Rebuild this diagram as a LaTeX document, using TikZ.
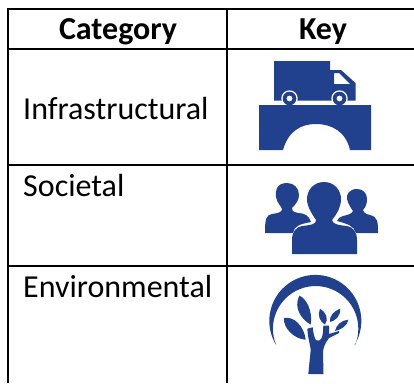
\documentclass[tikz,border=0pt]{standalone}
\usepackage{fontspec}
\setmainfont{Carlito}
\definecolor{iconblue}{RGB}{33,64,141}
\tikzset{
  px/.style={x=1pt,y=-1pt},
  gridline/.style={line width=2.3pt,black},
  icon/.style={fill=iconblue,draw=none},
  headtxt/.style={font=\fontsize{32}{36}\selectfont\bfseries,text=black,inner sep=0pt,anchor=base},
  celltxt/.style={font=\fontsize{32}{36}\selectfont,text=black,inner sep=0pt,anchor=base west},
}
\begin{document}
\begin{tikzpicture}[px]
\useasboundingbox (0,0) rectangle (414,383);
\fill[white] (0,0) rectangle (414,383);
% grid
\coordinate (tl) at (8,9);
\coordinate (tr) at (414,9);
\draw[gridline] (8,383) -- (tl) -- (tr);
\draw[gridline] (226.7,9) -- (226.7,383);
\draw[gridline] (8,49) -- (414,49);
\draw[gridline] (8,164.7) -- (414,164.7);
\draw[gridline] (8,265.7) -- (414,265.7);
% text
\node[headtxt] (hcat) at (118,39) {Category};
\node[headtxt] (hkey) at (323,39) {Key};
\node[celltxt] (c1) at (23,119) {Infrastructural};
\node[celltxt] (c2) at (23,196) {Societal};
\node[celltxt] (c3) at (23,297) {Environmental};
% truck
\fill[icon,even odd rule] (274,61) -- (330,61) -- (330,70) -- (341,70) -- (355.5,83) -- (355.5,100.5) -- (274,100.5) -- cycle
  (334,73) -- (334,84) -- (350,84) -- (339,73) -- cycle;
\foreach \cx in {289.5,339.5}{
  \fill[white] (\cx,98.5) circle (8.2);
  \fill[icon,even odd rule] (\cx,98.5) circle (6.8) (\cx,98.5) circle (3);
  \fill[icon] (\cx-1,103) rectangle (\cx+1,106);
}
% bridge
\fill[icon] (259,105) -- (371,105) -- (371,150) -- (350,150)
  .. controls (346,132) and (332,124) .. (316,124) .. controls (300,124) and (288,132) .. (283,150) -- (259,150) -- cycle;
% people
\fill[icon] (287,183) .. controls (276,183) and (275,192) .. (276,197) .. controls (277,203) and (281,206) .. (282,209)
  .. controls (282,212) and (279,213) .. (272,214) .. controls (266,215) and (265,219) .. (265,233) -- (293,233)
  .. controls (294,226) and (300,224) .. (311,222) .. controls (309,216) and (305,213) .. (298,213)
  .. controls (293,212) and (291,210) .. (292,208) .. controls (296,204) and (299,200) .. (299,195) .. controls (299,188) and (294,183) .. (287,183) -- cycle;
\fill[icon] (357,189) .. controls (349,189) and (346,195) .. (347,199) .. controls (348,204) and (351,208) .. (353,211)
  .. controls (352,214) and (347,215) .. (343,216) .. controls (340,217) and (338,218) .. (337,221)
  .. controls (348,224) and (354,226) .. (356,233) -- (378,233) .. controls (378,222) and (378,217) .. (370,215)
  .. controls (365,214) and (363,212) .. (363,210) .. controls (366,207) and (367,203) .. (367,199) .. controls (367,193) and (363,189) .. (357,189) -- cycle;
\fill[icon] (324,182) .. controls (313,182) and (307,191) .. (307,199) .. controls (307,207) and (312,214) .. (316,220)
  .. controls (316,224) and (312,225) .. (302,226) .. controls (296,227) and (292,232) .. (292,240) -- (292,254) -- (357,254) -- (357,240)
  .. controls (357,232) and (353,227) .. (347,226) .. controls (337,225) and (333,224) .. (332,220)
  .. controls (337,214) and (341,207) .. (341,199) .. controls (341,191) and (335,182) .. (324,182) -- cycle;
% tree ring
\fill[icon] (354.5,345) arc[start angle=-31.6,end angle=211.6,radius=46pt]
  arc[start angle=202.4,end angle=-22.4,radius=42.7pt] -- cycle;
% tree trunk
\fill[icon] (308.3,374) -- (310.7,350) .. controls (310.5,345) and (308,340) .. (307.3,328.7) -- (312.7,327.3) .. controls (313.5,335) and (315,340) .. (316.7,340.5)
  .. controls (321,341) and (323,339) .. (323.3,325.7) -- (329,325.7) -- (329,334) -- (339,331) -- (339,333) -- (329,338) .. controls (325,343) and (323,348) .. (323,353) -- (323.5,374) -- cycle;
% leaves
\fill[icon] (299.3,295.7) .. controls (306,298) and (313,311) .. (310.7,324.5) .. controls (302,320) and (293,308) .. (299.3,295.7) -- cycle;
\fill[icon] (284,318) .. controls (294,316) and (304,326) .. (305.7,339.7) .. controls (294,339) and (283,328) .. (284,318) -- cycle;
\fill[icon] (320,308.7) .. controls (326,312) and (329,319) .. (325,324.5) .. controls (320,322) and (317,315) .. (320,308.7) -- cycle;
\fill[icon] (340,308.7) .. controls (341,316) and (335,321) .. (330,322) .. controls (329,316) and (334,311) .. (340,308.7) -- cycle;
\fill[icon] (348.3,319.7) .. controls (348,325) and (341,330) .. (335,331) .. controls (336,325) and (342,320) .. (348.3,319.7) -- cycle;
\end{tikzpicture}
\end{document}
